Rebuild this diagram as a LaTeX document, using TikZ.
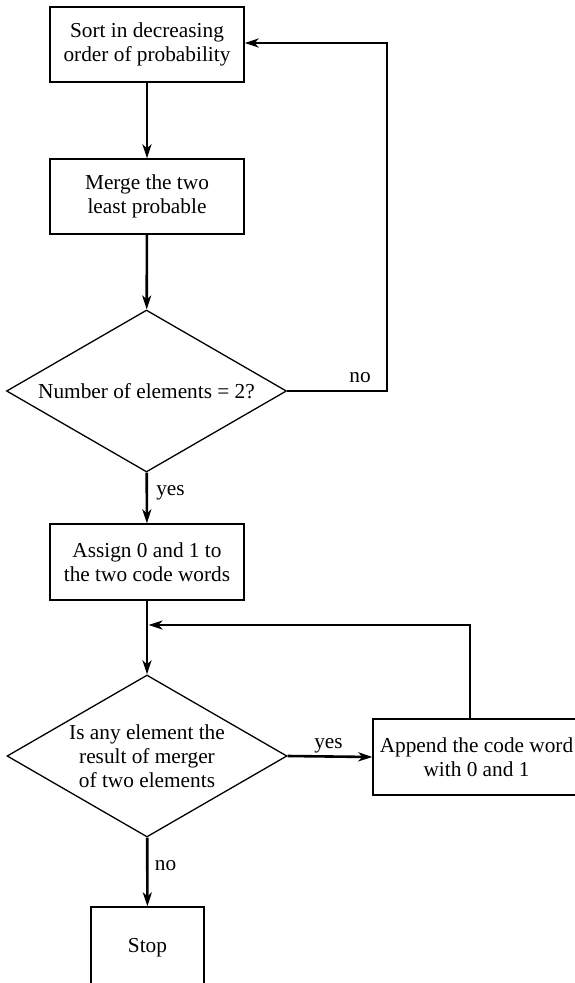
\documentclass[tikz,border=0pt]{standalone}
\usepackage{fontspec}
\setmainfont{Liberation Serif}
\usetikzlibrary{shapes.geometric,arrows.meta,calc}
\begin{document}
\begin{tikzpicture}[x=1pt,y=-1pt,
  font=\fontsize{21.3}{24}\selectfont,
  procbox/.style={draw,line width=1.3pt,minimum width=194pt,minimum height=75pt,inner sep=0pt,align=center},
  decision/.style={draw,diamond,line width=1.3pt,inner sep=0pt,align=center,minimum width=280pt,minimum height=162pt,shape aspect=1.73},
  flow/.style={line width=2.6pt,-{Stealth[length=14pt,width=9pt,inset=4pt]}},
  lab/.style={inner sep=0pt,anchor=base}
]
\useasboundingbox (0,0) rectangle (575,983);
\clip (0,0) rectangle (575,983);
\node[procbox] (sort) at (147,44.5) {Sort in decreasing\\order of probability};
\node[procbox] (merge) at (147,196.5) {Merge the two\\least probable};
\node[decision] (num) at (146.5,391) {Number of elements = 2?};
\node[procbox,minimum height=76pt] (assign) at (147,562) {Assign 0 and 1 to\\the two code words};
\node[decision] (any) at (147,756) {Is any element the\\result of merger\\of two elements};
\node[procbox,minimum width=207pt,minimum height=76pt] (append) at (476.5,757) {Append the code word\\with 0 and 1};
\node[procbox,minimum width=113pt,minimum height=82pt] (stop) at (147.5,948) {Stop};
\coordinate (noturn) at (387,43);
\coordinate (join) at (148.5,625);
\coordinate (loopturn) at (470,625);
\draw[flow] (sort) -- (merge);
\draw[flow] (merge) -- (num);
\draw[flow] (num.east) -| (noturn) -- (sort.east |- noturn);
\draw[flow] (num) -- (assign);
\draw[flow] (assign) -- (any);
\draw[flow] (append.north -| loopturn) -- (loopturn) -- (join);
\draw[flow] (any.east) -- (append.west);
\draw[flow] (any) -- (stop);
\node[lab] (no1) at (360,382.5) {no};
\node[lab] (yes1) at (170.5,495) {yes};
\node[lab] (yes2) at (328.5,748.3) {yes};
\node[lab] (no2) at (165.5,870.7) {no};
\end{tikzpicture}
\end{document}
